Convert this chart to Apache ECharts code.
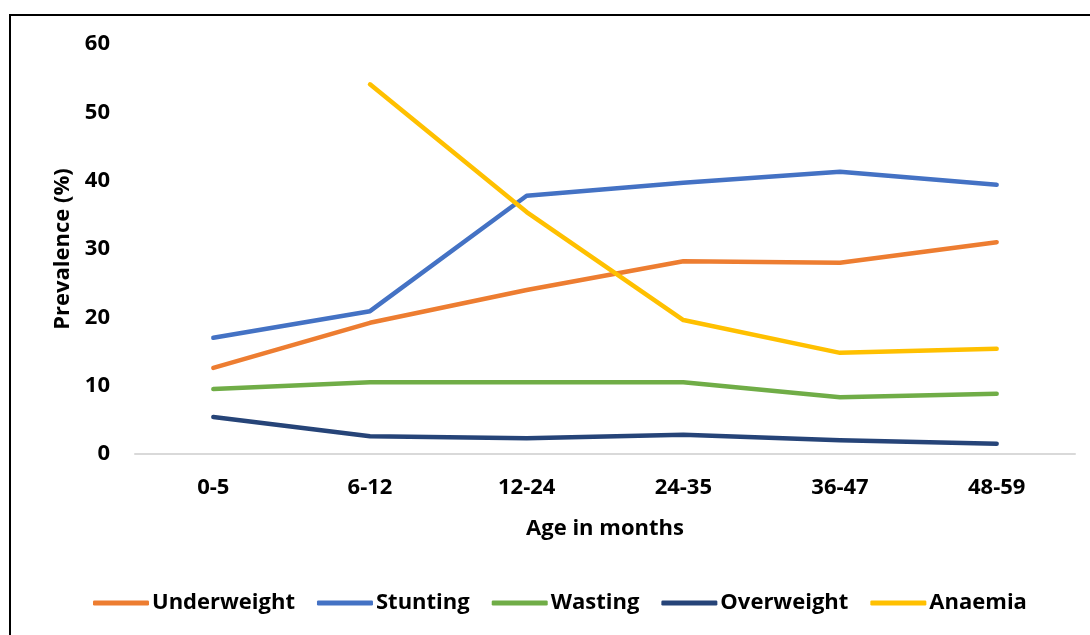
<!DOCTYPE html>
<html>
<head>
<meta charset="utf-8">
<script src="https://cdn.jsdelivr.net/npm/echarts@6/dist/echarts.min.js"></script>
<style>
  html, body { margin: 0; padding: 0; background: #ffffff; }
  #chart { width: 1090px; height: 635px; }
</style>
</head>
<body>
<div id="chart"></div>
<script>
// Age groups (months)
const ageGroups = ['0-5', '6-12', '12-24', '24-35', '36-47', '48-59'];

// Prevalence (%) per age group
const underweight = [12.6, 19.2, 24.0, 28.2, 28.0, 31.0];
const stunting    = [17.0, 20.9, 37.8, 39.7, 41.3, 39.4];
const wasting     = [9.5, 10.5, 10.5, 10.5, 8.3, 8.8];
const overweight  = [5.4, 2.6, 2.3, 2.8, 2.0, 1.5];
const anaemia     = [null, 54.1, 35.4, 19.6, 14.8, 15.4];

const seriesNames  = ['Underweight', 'Stunting', 'Wasting', 'Overweight', 'Anaemia'];
const seriesValues = [underweight, stunting, wasting, overweight, anaemia];
const seriesColors = ['#ED7D31', '#4472C4', '#70AD47', '#264478', '#FFC000'];

const FONT = '"Open Sans", "Noto Sans", sans-serif';

const chart = echarts.init(document.getElementById('chart'), null, { renderer: 'canvas' });

chart.setOption({
  backgroundColor: '#ffffff',
  animation: false,
  color: seriesColors,
  graphic: [{
    type: 'rect',
    shape: { x: 10, y: 15, width: 1200, height: 700 },
    style: { fill: 'none', stroke: '#000000', lineWidth: 2 },
    silent: true,
    z: -1
  }],
  grid: { left: 135, right: 15, top: 44, bottom: 181, containLabel: false },
  legend: {
    bottom: 16,
    left: 88,
    itemWidth: 56,
    itemHeight: 5,
    itemGap: 22,
    icon: 'roundRect',
    textStyle: { fontFamily: FONT, fontWeight: 'bold', fontSize: 22, color: '#000000', padding: [0, 0, 0, -2] },
    data: seriesNames
  },
  xAxis: {
    type: 'category',
    data: ageGroups,
    boundaryGap: true,
    name: 'Age in months',
    nameLocation: 'middle',
    nameGap: 64,
    nameTextStyle: { fontFamily: FONT, fontWeight: 'bold', fontSize: 22, color: '#000000' },
    axisLine: { show: true, lineStyle: { color: '#D9D9D9', width: 2 } },
    axisTick: { show: false },
    axisLabel: { fontFamily: FONT, fontWeight: 'bold', fontSize: 22, color: '#000000', margin: 23 },
    splitLine: { show: false }
  },
  yAxis: {
    type: 'value',
    min: 0,
    max: 60,
    interval: 10,
    name: 'Prevalence (%)',
    nameLocation: 'middle',
    nameGap: 61,
    nameRotate: 90,
    nameTextStyle: { fontFamily: FONT, fontWeight: 'bold', fontSize: 22, color: '#000000' },
    axisLine: { show: false },
    axisTick: { show: false },
    axisLabel: { fontFamily: FONT, fontWeight: 'bold', fontSize: 22, color: '#000000', margin: 25 },
    splitLine: { show: false }
  },
  series: seriesNames.map((name, i) => ({
    name: name,
    type: 'line',
    data: seriesValues[i],
    symbol: 'none',
    connectNulls: false,
    lineStyle: { width: 4.5, color: seriesColors[i], cap: 'round', join: 'round' },
    itemStyle: { color: seriesColors[i] },
    z: 2 + i
  }))
});
</script>
</body>
</html>
